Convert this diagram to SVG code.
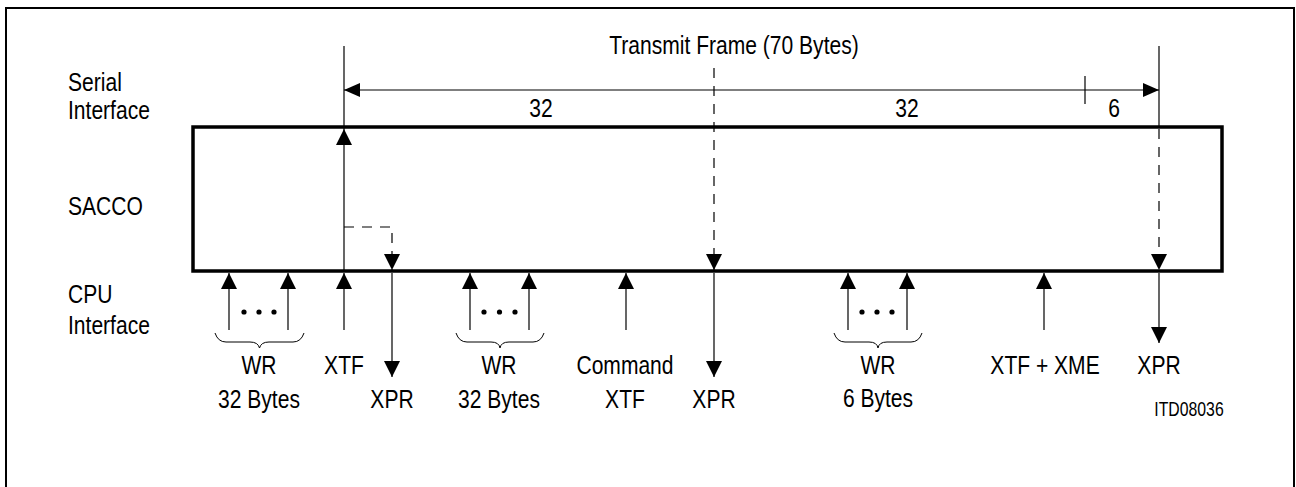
<svg xmlns="http://www.w3.org/2000/svg" width="1296" height="487" viewBox="0 0 1296 487">
<style>
text{font-family:"Liberation Sans",Arial,sans-serif;font-size:26px;fill:#000}
.m{text-anchor:middle}
.s{font-size:19.5px}
.ln{stroke:#000;stroke-width:1.2;fill:none}
.da{stroke:#000;stroke-width:1.2;fill:none;stroke-dasharray:10,8}
.br{stroke:#000;stroke-width:1;fill:none}
</style>
<defs>
<marker id="ah" viewBox="0 0 16 16" refX="16" refY="8" markerWidth="16" markerHeight="16" markerUnits="userSpaceOnUse" orient="auto">
<path d="M0,0 L16,8 L0,16 z" fill="#000"/>
</marker>
<marker id="ahd" viewBox="0 0 16 14" refX="16" refY="7" markerWidth="16" markerHeight="14" markerUnits="userSpaceOnUse" orient="auto-start-reverse">
<path d="M0,0 L16,7 L0,14 z" fill="#000"/>
</marker>
</defs>
<rect x="6" y="8" width="1288" height="500" fill="none" stroke="#000" stroke-width="2"/>

<g id="labels-left">
<text transform="translate(68,91) scale(0.81,1)">Serial</text>
<text transform="translate(68,119) scale(0.81,1)">Interface</text>
<text transform="translate(68,215) scale(0.81,1)">SACCO</text>
<text transform="translate(68,303) scale(0.81,1)">CPU</text>
<text transform="translate(68,334) scale(0.81,1)">Interface</text>
</g>

<g id="sacco">
<rect x="193" y="127" width="1029" height="144" fill="none" stroke="#000" stroke-width="3.5"/>
</g>

<g id="frame-dimension">
<line class="ln" x1="344" y1="90" x2="1159" y2="90" marker-start="url(#ahd)" marker-end="url(#ahd)"/>
<line class="ln" x1="1085" y1="76" x2="1085" y2="104"/>
<text class="m" transform="translate(734,54) scale(0.81,1)">Transmit Frame (70 Bytes)</text>
<text class="m" transform="translate(541,117) scale(0.81,1)">32</text>
<text class="m" transform="translate(907,117) scale(0.81,1)">32</text>
<text class="m" transform="translate(1114,117) scale(0.81,1)">6</text>
</g>

<g id="connectors">
<!-- XTF line -->
<line class="ln" x1="344" y1="46" x2="344" y2="129"/>
<line class="ln" x1="344" y1="271" x2="344" y2="129" marker-end="url(#ah)"/>
<line class="ln" x1="344" y1="330" x2="344" y2="273" marker-end="url(#ah)"/>
<!-- dashed L -->
<path class="da" d="M344,227 H392 V270" marker-end="url(#ah)"/>
<line class="ln" x1="392" y1="273" x2="392" y2="377" marker-end="url(#ah)"/>
<!-- middle XPR -->
<line class="da" x1="714" y1="68" x2="714" y2="270" marker-end="url(#ah)"/>
<line class="ln" x1="714" y1="273" x2="714" y2="377" marker-end="url(#ah)"/>
<!-- right XPR -->
<line class="ln" x1="1159" y1="46" x2="1159" y2="127"/>
<line class="da" x1="1159" y1="129" x2="1159" y2="270" marker-end="url(#ah)"/>
<line class="ln" x1="1159" y1="273" x2="1159" y2="343" marker-end="url(#ah)"/>
<!-- WR groups -->
<line class="ln" x1="229" y1="330" x2="229" y2="273" marker-end="url(#ah)"/>
<line class="ln" x1="288" y1="330" x2="288" y2="273" marker-end="url(#ah)"/>
<line class="ln" x1="470" y1="330" x2="470" y2="273" marker-end="url(#ah)"/>
<line class="ln" x1="529" y1="330" x2="529" y2="273" marker-end="url(#ah)"/>
<line class="ln" x1="626" y1="330" x2="626" y2="273" marker-end="url(#ah)"/>
<line class="ln" x1="848" y1="330" x2="848" y2="273" marker-end="url(#ah)"/>
<line class="ln" x1="907" y1="330" x2="907" y2="273" marker-end="url(#ah)"/>
<line class="ln" x1="1044" y1="330" x2="1044" y2="273" marker-end="url(#ah)"/>
</g>

<g id="wr1">
<circle cx="244" cy="312" r="2.6"/><circle cx="259" cy="312" r="2.6"/><circle cx="274" cy="312" r="2.6"/>
<path class="br" d="M215,333 Q218,342 226,342 L250,342 Q258,342 259.5,348 Q261,342 269,342 L293,342 Q301,342 304,333"/>
<text class="m" transform="translate(259,374) scale(0.81,1)">WR</text>
<text class="m" transform="translate(259,408) scale(0.81,1)">32 Bytes</text>
</g>
<g id="xtf1"><text class="m" transform="translate(344,374) scale(0.81,1)">XTF</text></g>
<g id="xpr1"><text class="m" transform="translate(392,408) scale(0.81,1)">XPR</text></g>
<g id="wr2">
<circle cx="484" cy="312" r="2.6"/><circle cx="499.5" cy="312" r="2.6"/><circle cx="515" cy="312" r="2.6"/>
<path class="br" d="M456,333 Q459,342 467,342 L491,342 Q499,342 500,348 Q501,342 509,342 L533,342 Q541,342 544,333"/>
<text class="m" transform="translate(499,374) scale(0.81,1)">WR</text>
<text class="m" transform="translate(499,408) scale(0.81,1)">32 Bytes</text>
</g>
<g id="cmd">
<text class="m" transform="translate(625,374) scale(0.81,1)">Command</text>
<text class="m" transform="translate(625,408) scale(0.81,1)">XTF</text>
</g>
<g id="xpr2"><text class="m" transform="translate(714,408) scale(0.81,1)">XPR</text></g>
<g id="wr3">
<circle cx="862" cy="312" r="2.6"/><circle cx="877" cy="312" r="2.6"/><circle cx="892" cy="312" r="2.6"/>
<path class="br" d="M834,333 Q837,342 845,342 L869,342 Q877,342 878,348 Q879,342 887,342 L911,342 Q919,342 922,333"/>
<text class="m" transform="translate(878,374) scale(0.81,1)">WR</text>
<text class="m" transform="translate(878,407) scale(0.81,1)">6 Bytes</text>
</g>
<g id="xtfxme"><text class="m" transform="translate(1045,374) scale(0.81,1)">XTF + XME</text></g>
<g id="xpr3"><text class="m" transform="translate(1159,374) scale(0.81,1)">XPR</text></g>
<g id="ref"><text class="m s" transform="translate(1189,416) scale(0.81,1)">ITD08036</text></g>
</svg>
